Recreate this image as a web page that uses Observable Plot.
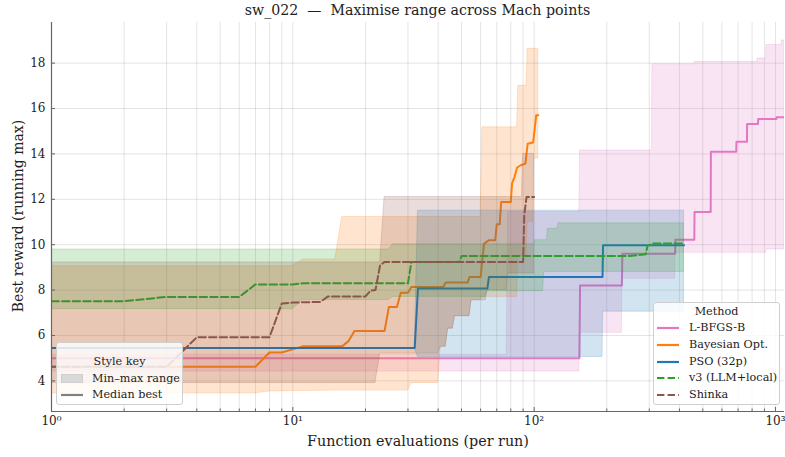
<!DOCTYPE html>
<html><head><meta charset="utf-8">
<script src="https://cdn.jsdelivr.net/npm/d3@7"></script>
<script src="https://cdn.jsdelivr.net/npm/@observablehq/plot@0.6"></script>
<style>
html,body{margin:0;padding:0;background:#fff;overflow:hidden}
#wrap{position:relative;width:785px;height:457px;overflow:hidden;font-family:"DejaVu Serif",serif;color:#222}
#title{position:absolute;left:51px;width:733px;top:1px;text-align:center;font-size:14.2px;white-space:pre;line-height:18px}
#chart{position:absolute;left:0;top:20px}
#ylab{position:absolute;left:18px;top:216px;transform:translate(-50%,-50%) rotate(-90deg);font-size:14px;white-space:nowrap}
#xlab{position:absolute;left:418px;top:441px;transform:translate(-50%,-50%);font-size:14.3px;white-space:nowrap}
.leg{position:absolute;background:rgba(255,255,255,0.82);border:1px solid #cfcfcf;border-radius:3px;box-sizing:border-box}
.leg .t{position:absolute;left:0;right:0;text-align:center;font-size:11.2px;line-height:14px}
.leg .row{position:absolute;font-size:11.2px;line-height:14px;white-space:nowrap}
.leg .s{position:absolute}
.leg svg{display:block}
</style></head><body>
<div id="wrap">
  <div id="title">sw_022  —  Maximise range across Mach points</div>
  <div id="chart"></div>
  <div id="ylab">Best reward (running max)</div>
  <div id="xlab">Function evaluations (per run)</div>
  <div class="leg" id="styleKey" style="left:56px;top:342px;width:127px;height:63px"></div>
  <div class="leg" id="methodKey" style="left:653px;top:302px;width:127px;height:103px"></div>
</div>
<script>
// ---- data ----
const methods = ["L-BFGS-B", "Bayesian Opt.", "PSO (32p)", "v3 (LLM+local)", "Shinka"];
const colors  = ["#e377c2", "#ff7f0e", "#1f77b4", "#2ca02c", "#8c564b"];
const dashed  = [false, false, false, true, true];

// median running-best curves: [evaluation, value]
const lbfgsMedian = [[1,5.0],[154,5.0],[155,8.2],[231,8.2],[232,9.6],[384,9.6],[385,10.22],[461,10.22],[462,11.44],[539,11.44],[540,14.1],[688,14.1],[689,14.54],[762,14.54],[763,15.32],[847,15.32],[848,15.54],[1009,15.54],[1010,15.61],[1090,15.61]];
const bayesMedian = [[1,4.62],[7,4.62],[8,5.25],[9,5.25],[11,5.52],[16,5.52],[17,5.75],[18,6.2],[24,6.2],[25,7.25],[27,7.25],[28,7.88],[30,7.88],[31,8.14],[42,8.14],[43,8.33],[53,8.33],[54,8.58],[60,8.58],[62,10.05],[65,10.2],[69,10.2],[70,10.9],[72,10.9],[73,11.88],[80,11.88],[81,12.7],[83,13.0],[85,13.4],[88,13.5],[92,13.57],[94,14.45],[99,14.5],[100,14.9],[102,15.7],[104,15.7]];
const psoMedian   = [[1,5.45],[32,5.45],[33,8.07],[64,8.07],[65,8.58],[192,8.58],[193,9.98],[418,9.98]];
const v3Median    = [[1,7.51],[2,7.51],[3,7.7],[6,7.7],[7,8.25],[10,8.25],[11,8.3],[30,8.3],[31,9.24],[49,9.24],[50,9.5],[250,9.5],[290,9.58],[295,9.95],[310,10.05],[417,10.05]];
const shinkaMedian= [[1,4.62],[3,4.62],[4,5.92],[8,5.92],[9,7.41],[10,7.45],[13,7.48],[14,7.72],[20,7.72],[21,7.98],[22,8.0],[23,9.1],[24,9.24],[90,9.24],[91,11.3],[93,12.1],[100,12.1]];

// min-max bands: [evaluation, min, max]
const lbfgsBand = [[1,4.41,5.15],[77,4.41,5.15],[78,4.41,11.44],[154,4.41,11.44],[155,6.12,14.15],[231,6.12,14.15],[232,8.5,14.15],[308,8.5,14.15],[309,8.5,17.95],[384,8.5,17.95],[385,9.64,17.95],[462,9.64,17.95],[463,9.64,18.05],[842,9.64,18.05],[843,9.64,18.2],[915,9.64,18.2],[916,9.79,18.8],[1060,9.79,18.8],[1061,9.79,19.0],[1090,9.79,19.0]];
const bayesBand = [[1,3.45,9.05],[7,3.45,9.05],[8,3.53,9.05],[10,3.55,9.05],[11,3.55,9.35],[15,3.57,9.35],[16,3.57,11.22],[30,3.57,11.22],[31,3.9,11.22],[40,3.9,11.22],[41,5.5,11.22],[43,5.5,11.22],[44,6.3,11.22],[46,6.3,11.22],[47,6.85,11.22],[54,6.85,11.22],[55,7.55,11.22],[60,7.55,11.22],[61,7.7,15.17],[85,7.7,15.17],[86,9.5,17.0],[93,9.5,17.0],[94,11.0,18.63],[99,11.0,18.63],[100,13.8,18.63],[104,13.8,18.63]];
const psoBand   = [[1,5.43,5.43],[32,5.43,5.43],[33,5.05,11.5],[192,5.05,11.5],[193,7.05,11.5],[418,7.05,11.5]];
const v3Band    = [[1,7.16,9.79],[10,7.16,9.79],[11,7.56,9.79],[25,7.56,9.79],[26,7.7,10.02],[63,7.7,10.02],[64,7.95,10.02],[100,7.95,10.02],[101,7.95,10.2],[109,7.95,10.2],[110,8.8,10.2],[113,8.8,10.2],[114,8.8,10.7],[125,8.8,10.7],[126,8.8,10.94],[417,8.8,10.94]];
const shinkaBand= [[1,3.9,9.22],[22,3.9,9.22],[23,5.2,9.22],[24,5.2,12.1],[40,5.2,12.1],[41,5.5,12.1],[43,5.5,12.1],[44,6.3,12.1],[46,6.3,12.1],[47,6.85,12.1],[54,6.85,12.1],[55,7.55,12.1],[63,7.55,12.1],[64,8.0,12.1],[77,8.0,12.1],[78,8.73,12.1],[89,8.73,12.1],[90,8.73,14.0],[100,8.73,14.0]];

// axes
const xDomain = [1, 1090];
const yDomain = [2.65, 19.79];
const yTicks = [4, 6, 8, 10, 12, 14, 16, 18];
const xMajor = [1, 10, 100, 1000];
const xMinor = [2,3,4,5,6,7,8,9,20,30,40,50,60,70,80,90,200,300,400,500,600,700,800,900];
const xTickLabels = ["10\u2070", "10\u00b9", "10\u00b2", "10\u00b3"];

// ---- chart ----
const medians = [lbfgsMedian, bayesMedian, psoMedian, v3Median, shinkaMedian];
const bands = [lbfgsBand, bayesBand, psoBand, v3Band, shinkaBand];

const W = 785, H = 437, mL = 51, mR = 1, mT = 2, mB = 46;
const plotW = W - mL - mR, plotH = H - mT - mB;
const font = "DejaVu Serif";

const marks = [
  Plot.ruleX(xMinor.concat(xMajor), {stroke: "#000", strokeOpacity: 0.11, strokeWidth: 1}),
  Plot.ruleY(yTicks, {stroke: "#000", strokeOpacity: 0.11, strokeWidth: 1}),
];
methods.forEach((m, i) => {
  marks.push(Plot.areaY(bands[i], {x: d => d[0], y1: d => d[1], y2: d => d[2], fill: colors[i], fillOpacity: 0.2, stroke: colors[i], strokeOpacity: 0.2, strokeWidth: 1, clip: true}));
  marks.push(Plot.line(medians[i], {x: d => d[0], y: d => d[1], stroke: colors[i], strokeWidth: 2, strokeDasharray: dashed[i] ? "7.4,3.2" : null, clip: true}));
});
marks.push(
  Plot.ruleX([xDomain[0]], {stroke: "#666", strokeWidth: 1.2}),
  Plot.ruleY([yDomain[0]], {stroke: "#666", strokeWidth: 1.2}),
  Plot.tickY(yTicks, {stroke: "#666", insetRight: plotW - 4}),
  Plot.tickX(xMajor, {stroke: "#666", insetTop: plotH - 4}),
  Plot.tickX(xMinor, {stroke: "#666", insetTop: plotH - 2.5}),
  Plot.axisY(yTicks, {tickSize: 0, tickPadding: 6, fontSize: 12, fontFamily: font, fill: "#222", label: null}),
  Plot.axisX(xMajor, {tickSize: 0, tickPadding: 5, fontSize: 12, fontFamily: font, fill: "#222", label: null, tickFormat: d => xTickLabels[xMajor.indexOf(d)]})
);

const chart = Plot.plot({
  width: W, height: H,
  marginLeft: mL, marginRight: mR, marginTop: mT, marginBottom: mB,
  style: {fontFamily: font, background: "transparent", overflow: "visible"},
  x: {type: "log", domain: xDomain},
  y: {domain: yDomain},
  marks
});
document.getElementById("chart").appendChild(chart);

// ---- legends (HTML) ----
function sample(kind, color, dash) {
  if (kind === "patch")
    return `<svg width="22" height="9"><rect x="0.5" y="0.5" width="21" height="8" fill="#d9d9d9" stroke="#cfcfcf"/></svg>`;
  return `<svg width="22" height="4"><line x1="0" x2="22" y1="2" y2="2" stroke="${color}" stroke-width="2.2" ${dash ? 'stroke-dasharray="7.4,3.2"' : ""}/></svg>`;
}
const sk = document.getElementById("styleKey");
sk.innerHTML =
  `<div class="t" style="top:12px">Style key</div>` +
  `<div class="s" style="left:4px;top:31px">${sample("patch")}</div>` +
  `<div class="row" style="left:35px;top:28.5px">Min–max range</div>` +
  `<div class="s" style="left:4px;top:50px">${sample("line", "#808080", false)}</div>` +
  `<div class="row" style="left:35px;top:45px">Median best</div>`;
const mk = document.getElementById("methodKey");
let html = `<div class="t" style="top:1.5px">Method</div>`;
methods.forEach((m, i) => {
  const cy = 25 + i * 16.8;
  html += `<div class="s" style="left:3px;top:${cy - 2}px">${sample("line", colors[i], dashed[i])}</div>`;
  html += `<div class="row" style="left:35px;top:${cy - 7}px">${m}</div>`;
});
mk.innerHTML = html;
</script>
</body></html>
